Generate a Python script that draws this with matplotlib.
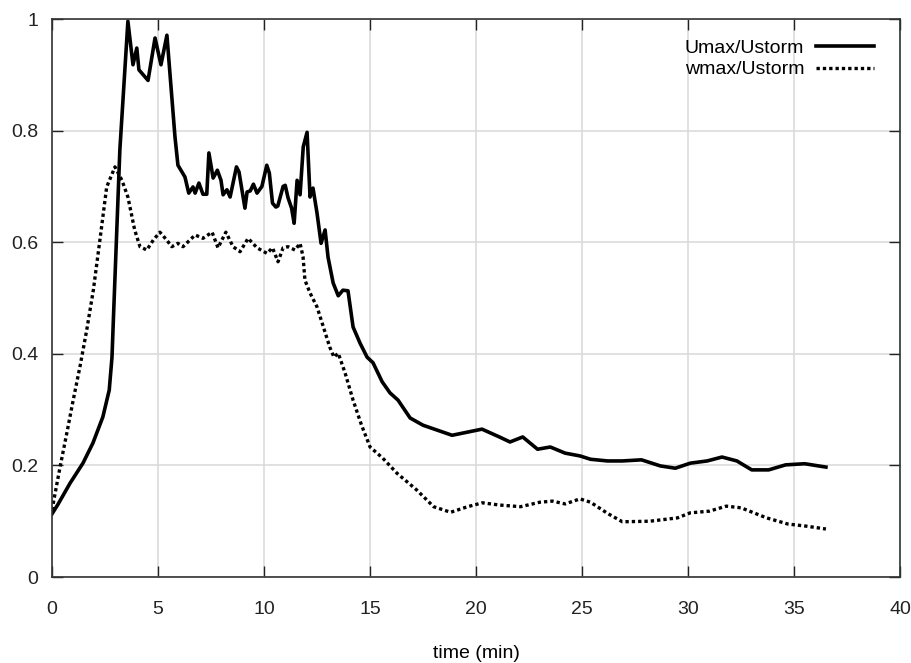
import matplotlib
matplotlib.use("Agg")
import matplotlib.pyplot as plt

plt.rcParams['font.family'] = ['Liberation Sans', 'DejaVu Sans']

# Umax/Ustorm (solid)
t_u = [0.0, 0.28, 0.85, 1.46, 1.93, 2.4, 2.7, 2.83, 2.9, 3.2, 3.58,
       3.82, 4.0, 4.1, 4.53, 4.86, 5.14, 5.42, 5.8, 5.94, 6.27, 6.45,
       6.65, 6.75, 6.93, 7.12, 7.3, 7.4, 7.6, 7.8, 7.97, 8.07, 8.25,
       8.4, 8.7, 8.82, 9.1, 9.2, 9.35, 9.5, 9.67, 9.9, 10.13, 10.25,
       10.4, 10.56, 10.65, 10.9, 11.0, 11.13, 11.3, 11.42, 11.56, 11.7,
       11.85, 12.03, 12.17, 12.31, 12.5, 12.69, 12.88, 13.02, 13.26,
       13.5, 13.72, 13.96, 14.2, 14.53, 14.86, 15.14, 15.57, 15.94,
       16.32, 16.89, 17.5, 18.87, 20.28, 21.1, 21.6, 22.2, 22.9, 23.5,
       24.2, 24.9, 25.4, 26.2, 26.9, 27.8, 28.7, 29.4, 30.1, 30.9, 31.6,
       32.3, 33.0, 33.8, 34.6, 35.5, 36.5]
u_max = [0.113, 0.13, 0.168, 0.204, 0.24, 0.287, 0.335, 0.394, 0.466, 0.765, 0.996,
         0.918, 0.948, 0.909, 0.89, 0.966, 0.918, 0.971, 0.789, 0.738, 0.717, 0.688,
         0.699, 0.688, 0.706, 0.686, 0.686, 0.76, 0.715, 0.729, 0.711, 0.685, 0.694,
         0.681, 0.735, 0.726, 0.661, 0.69, 0.692, 0.704, 0.688, 0.7, 0.738, 0.724,
         0.67, 0.663, 0.665, 0.7, 0.702, 0.68, 0.661, 0.634, 0.711, 0.685,
         0.771, 0.797, 0.681, 0.697, 0.652, 0.598, 0.622, 0.573, 0.527,
         0.504, 0.514, 0.513, 0.448, 0.419, 0.394, 0.384, 0.35, 0.33,
         0.317, 0.285, 0.272, 0.254, 0.265, 0.251, 0.242, 0.251, 0.229, 0.233,
         0.222, 0.217, 0.211, 0.208, 0.208, 0.21, 0.199, 0.195, 0.204, 0.208, 0.215,
         0.208, 0.192, 0.192, 0.201, 0.203, 0.197]

# wmax/Ustorm (dotted)
t_w = [0.0, 0.38, 0.7, 1.0, 1.32, 1.64, 1.95, 2.26, 2.58, 2.97, 3.3,
       3.58, 3.9, 4.15, 4.47, 4.78, 5.09, 5.41, 5.65, 5.94, 6.18, 6.75,
       7.12, 7.55, 7.83, 8.2, 8.54, 8.87, 9.25, 9.67, 10.14, 10.4, 10.66,
       10.9, 11.13, 11.46, 11.7, 11.84, 11.93, 12.17, 12.5, 12.8, 13.1,
       13.3, 13.5, 13.82, 14.2, 14.6, 15.0, 15.6, 16.27, 17.2, 18.0,
       18.8, 19.6, 20.3, 21.1, 22.1, 23.0, 23.6, 24.2, 24.9, 25.4, 26.2,
       26.9, 28.2, 29.5, 30.1, 31.0, 31.8, 32.5, 33.7, 34.7, 35.6, 36.5]
w_max = [0.12, 0.197, 0.258, 0.317, 0.377, 0.443, 0.514, 0.604, 0.699, 0.735, 0.711,
         0.681, 0.622, 0.592, 0.586, 0.604, 0.618, 0.604, 0.592, 0.598, 0.592, 0.613,
         0.607, 0.618, 0.59, 0.618, 0.592, 0.583, 0.607, 0.59, 0.58, 0.59, 0.565,
         0.59, 0.592, 0.586, 0.598, 0.574, 0.532, 0.509, 0.484, 0.448, 0.412,
         0.394, 0.401, 0.366, 0.317, 0.272, 0.233, 0.213, 0.186, 0.156, 0.126,
         0.116, 0.126, 0.133, 0.129, 0.126, 0.134, 0.136, 0.131, 0.14, 0.134, 0.114,
         0.099, 0.1, 0.106, 0.115, 0.118, 0.127, 0.124, 0.106, 0.095, 0.091, 0.086]

x_ticks = [0, 5, 10, 15, 20, 25, 30, 35, 40]
y_ticks = [0, 0.2, 0.4, 0.6, 0.8, 1]
y_labels = ['0', '0.2', '0.4', '0.6', '0.8', '1']

fig = plt.figure(figsize=(9.12, 6.63), dpi=100)
ax = fig.add_axes([0.057, 0.1297, 0.93, 0.8416])

ax.plot(t_u, u_max, color='black', lw=2.6, label='Umax/Ustorm')
ax.plot(t_w, w_max, color='black', lw=2.4, linestyle=(0, (1, 0.9)), label='wmax/Ustorm')

ax.set_xlim(0, 40)
ax.set_ylim(0, 1)
ax.set_xticks(x_ticks)
ax.set_yticks(y_ticks)
ax.set_yticklabels(y_labels)
ax.grid(True, color='#d8d8d8', lw=1.1)
ax.set_axisbelow(True)
ax.tick_params(direction='in', length=8, width=1, top=True, right=True,
               labelsize=14, colors='#222222')
ax.tick_params(axis='x', pad=17)
ax.tick_params(axis='y', pad=10)
for s in ax.spines.values():
    s.set_linewidth(1.2)
    s.set_color('#333333')

ax.set_xlabel('time (min)', fontsize=14, labelpad=20)

ax.legend(loc='upper right', bbox_to_anchor=(0.99, 0.995), frameon=False,
          markerfirst=False, handlelength=3.0, fontsize=14, labelspacing=0.2,
          handletextpad=0.6)

fig.savefig('out.png', dpi=100)
